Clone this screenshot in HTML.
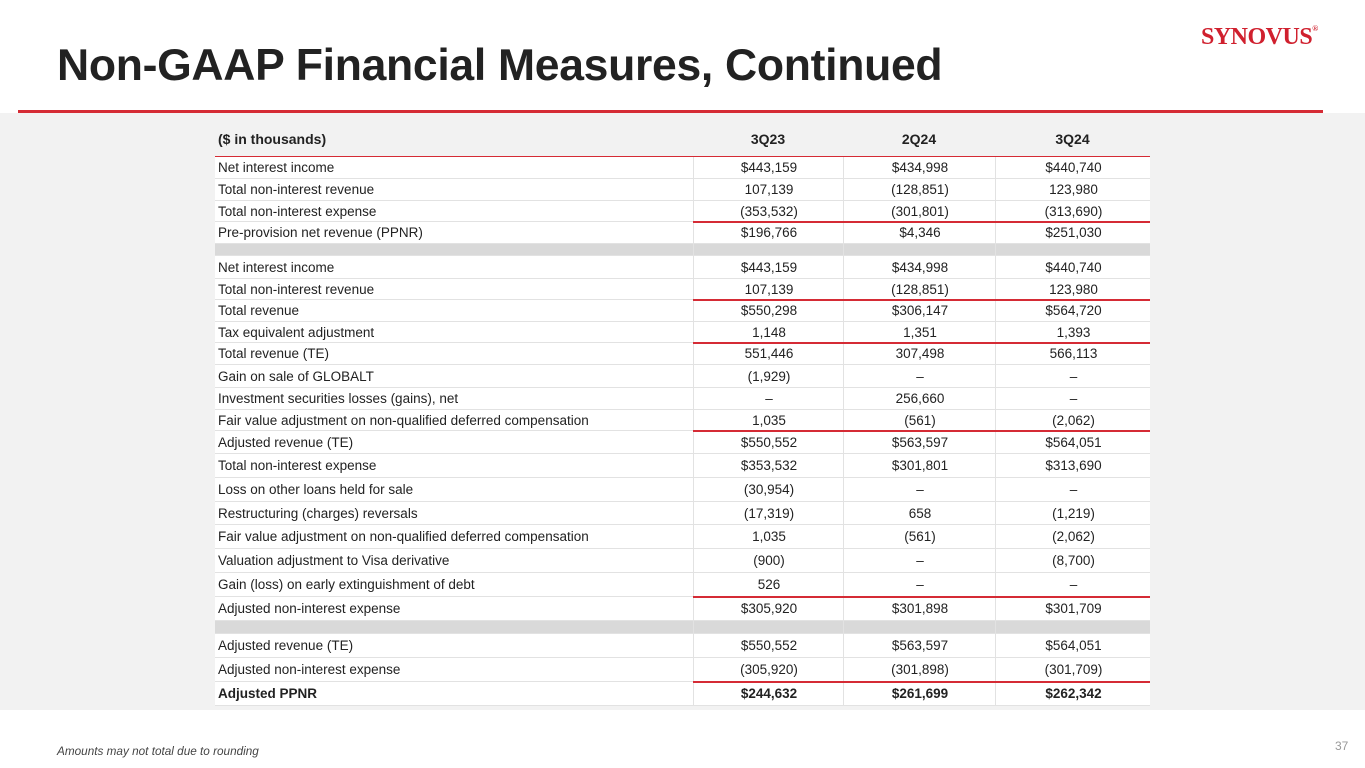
<!DOCTYPE html>
<html><head><meta charset="utf-8">
<style>
body{margin:0;width:1365px;height:768px;position:relative;background:#fff;font-family:"Liberation Sans",sans-serif;overflow:hidden}
#band{position:absolute;left:0;top:113px;width:1365px;height:597px;background:#f2f2f2}
#title{position:absolute;left:57px;top:41px;font-size:44.5px;font-weight:bold;color:#222;letter-spacing:-0.3px}
#logo{position:absolute;left:1201px;top:24px;font-family:"Liberation Serif",serif;font-size:24px;color:#d0202e;font-weight:bold;letter-spacing:-0.5px}
#rule{position:absolute;left:18px;top:110px;width:1305px;height:3px;background:#d52b35}
.hdr{position:absolute;top:131px;font-size:14px;font-weight:bold;color:#222}
.row{position:absolute;left:215px;width:935px;background:#fff;border-bottom:1px solid #e2e2e2;font-size:13.5px;color:#222}
.row.gap{background:#d9d9d9}
.row div{position:absolute;top:0;height:100%;display:flex;align-items:center}
.c{justify-content:center;border-left:1px solid #e2e2e2}
.red{position:absolute;height:2px;background:#d52b35}
#foot{position:absolute;left:57px;top:745px;font-size:11.75px;font-style:italic;color:#444}
#pg{position:absolute;left:1335px;top:739px;font-size:12px;color:#999}
</style></head><body>
<div id="band"></div>
<div id="title">Non-GAAP Financial Measures, Continued</div>
<div id="logo">SYNOVUS<span style="font-size:8px;vertical-align:top">®</span></div>
<div id="rule"></div>
<div class="hdr" style="left:218px">($ in thousands)</div>
<div class="hdr" style="left:693px;width:150px;text-align:center">3Q23</div>
<div class="hdr" style="left:843px;width:152px;text-align:center">2Q24</div>
<div class="hdr" style="left:995px;width:155px;text-align:center">3Q24</div>
<div class="red" style="left:215px;top:156px;width:935px"></div>
<div id="tbl"></div>
<div id="foot">Amounts may not total due to rounding</div>
<div id="pg">37</div>
<script>
const labels=["Net interest income","Total non-interest revenue","Total non-interest expense","Pre-provision net revenue (PPNR)","","Net interest income","Total non-interest revenue","Total revenue","Tax equivalent adjustment","Total revenue (TE)","Gain on sale of GLOBALT","Investment securities losses (gains), net","Fair value adjustment on non-qualified deferred compensation","Adjusted revenue (TE)","Total non-interest expense","Loss on other loans held for sale","Restructuring (charges) reversals","Fair value adjustment on non-qualified deferred compensation","Valuation adjustment to Visa derivative","Gain (loss) on early extinguishment of debt","Adjusted non-interest expense","","Adjusted revenue (TE)","Adjusted non-interest expense","Adjusted PPNR"];
const v3q23=["$443,159","107,139","(353,532)","$196,766","","$443,159","107,139","$550,298","1,148","551,446","(1,929)","–","1,035","$550,552","$353,532","(30,954)","(17,319)","1,035","(900)","526","$305,920","","$550,552","(305,920)","$244,632"];
const v2q24=["$434,998","(128,851)","(301,801)","$4,346","","$434,998","(128,851)","$306,147","1,351","307,498","–","256,660","(561)","$563,597","$301,801","–","658","(561)","–","–","$301,898","","$563,597","(301,898)","$261,699"];
const v3q24=["$440,740","123,980","(313,690)","$251,030","","$440,740","123,980","$564,720","1,393","566,113","–","–","(2,062)","$564,051","$313,690","–","(1,219)","(2,062)","(8,700)","–","$301,709","","$564,051","(301,709)","$262,342"];
const tops=[157,179,201,222,244,256,279,300,322,343,365,388,410,431,454,478,502,525,549,573,597,621,634,658,682,706];
const redAfter=[2,6,8,12,19,23];
const tbl=document.getElementById('tbl');
labels.forEach((l,i)=>{
  const r=document.createElement('div');
  r.className='row'+(l===''?' gap':'');
  
  
  r.style.top=tops[i]+'px';r.style.height=(tops[i+1]-tops[i]-1)+'px';
  if(i===24)r.style.fontWeight='bold';
  const cols=[[l,3,478,''],[v3q23[i],478,150,'c'],[v2q24[i],628,152,'c'],[v3q24[i],780,155,'c']];
  cols.forEach(([t,x,w,c])=>{
    const d=document.createElement('div');
    
    
    d.className=c;d.style.left=x+'px';d.style.width=w+'px';d.textContent=t;
    if(!c)d.style.borderLeft='none';
    r.appendChild(d);
  });
  tbl.appendChild(r);
});
redAfter.forEach(i=>{
  const d=document.createElement('div');
  
  
  d.className='red';d.style.left='693px';d.style.width='457px';d.style.top=(tops[i+1]-1)+'px';
  tbl.appendChild(d);
});
</script>
</body></html>
